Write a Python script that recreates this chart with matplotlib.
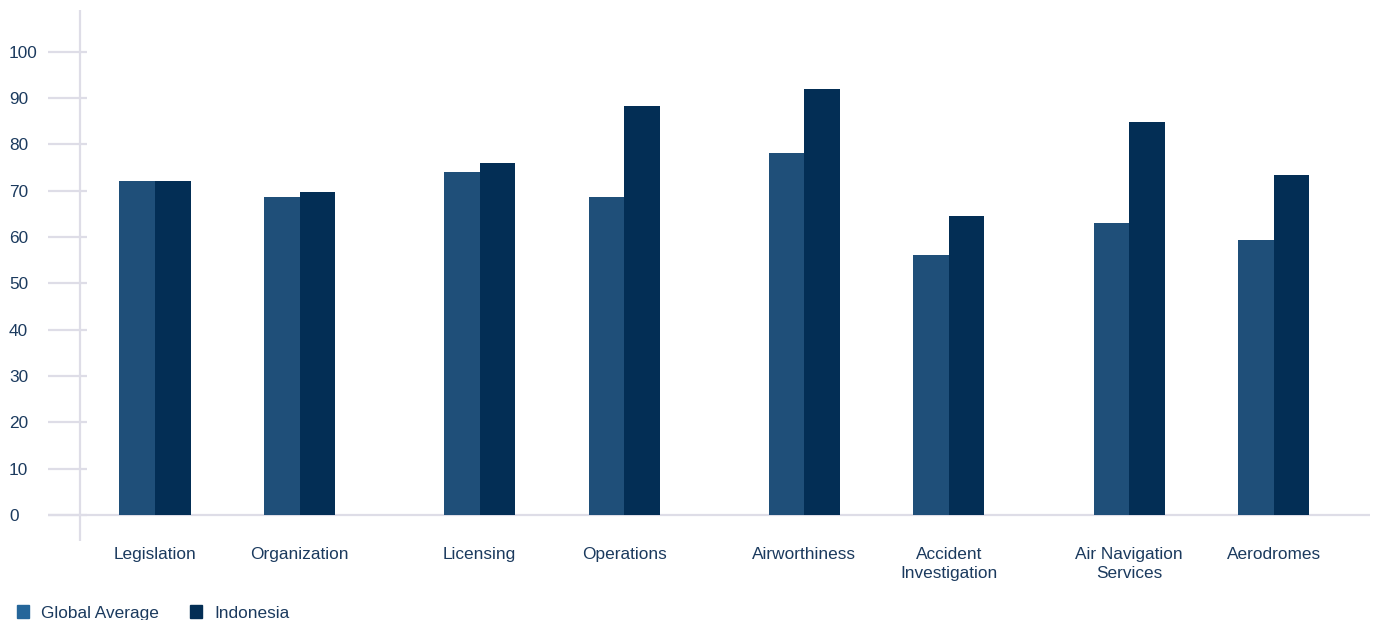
import matplotlib
matplotlib.use("Agg")
import matplotlib.pyplot as plt
from matplotlib.patches import Rectangle
import numpy as np

# Audit areas and effective-implementation scores
categories = ["Legislation", "Organization", "Licensing", "Operations",
              "Airworthiness", "Accident\nInvestigation",
              "Air Navigation\nServices", "Aerodromes"]
global_average = [72.1, 68.6, 74.0, 68.6, 78.1, 56.1, 63.0, 59.4]
indonesia = [72.1, 69.7, 76.0, 88.3, 91.9, 64.5, 84.8, 73.4]
y_ticks = [0, 10, 20, 30, 40, 50, 60, 70, 80, 90, 100]
series_names = ["Global Average", "Indonesia"]

C_GLOBAL = "#1f4f79"
C_INDO = "#032e55"
C_LEGEND_GLOBAL = "#25669a"
C_TEXT = "#1b3a5e"
C_AXIS = "#dedde7"
FS = 12.4

plt.rcParams["font.family"] = ["Liberation Sans", "DejaVu Sans"]

W, H = 1375, 620
fig = plt.figure(figsize=(W / 100, H / 100), dpi=100)

left_px, right_px, top_px, bottom_px = 48, 1370, 10, 541
ax = fig.add_axes([left_px / W, (H - bottom_px) / H,
                   (right_px - left_px) / W, (bottom_px - top_px) / H])

# Categories come in pairs, with an extra bar-width gap between pairs
n = len(categories)
idx = np.arange(n)
pos = idx + (idx // 2) * 0.247
bw = 0.246

ax.bar(pos - bw / 2, global_average, width=bw, color=C_GLOBAL, zorder=3)
ax.bar(pos + bw / 2, indonesia, width=bw, color=C_INDO, zorder=3)

ax.set_xlim(-0.7405, 8.408)
ax.set_ylim(-5.61, 109.0)

for s in ax.spines.values():
    s.set_visible(False)

# baseline and vertical axis rule
ax.axhline(0, color=C_AXIS, lw=1.6, zorder=1)
ax.axvline(-0.519, color=C_AXIS, lw=1.6, zorder=1)

ax.set_yticks(y_ticks)
ax.set_yticklabels([str(v) for v in y_ticks])
ax.tick_params(axis="y", direction="in", length=28.1, width=1.6,
               color=C_AXIS, pad=28.1, labelsize=FS, labelcolor=C_TEXT)
for lbl in ax.get_yticklabels():
    lbl.set_horizontalalignment("left")

ax.set_xticks(pos)
ax.set_xticklabels(categories, linespacing=1.38)
ax.tick_params(axis="x", length=0, pad=4, labelsize=FS, labelcolor=C_TEXT)

# legend
leg_items = [(17, C_LEGEND_GLOBAL, series_names[0]), (190, C_INDO, series_names[1])]
for x0, col, name in leg_items:
    fig.patches.append(Rectangle((x0 / W, (H - 618) / H), 12 / W, 13 / H,
                                 transform=fig.transFigure, color=col))
    fig.text((x0 + 24) / W, (H - 618) / H, name, fontsize=FS, color=C_TEXT,
             ha="left", va="baseline")

fig.savefig("out.png", dpi=100)
